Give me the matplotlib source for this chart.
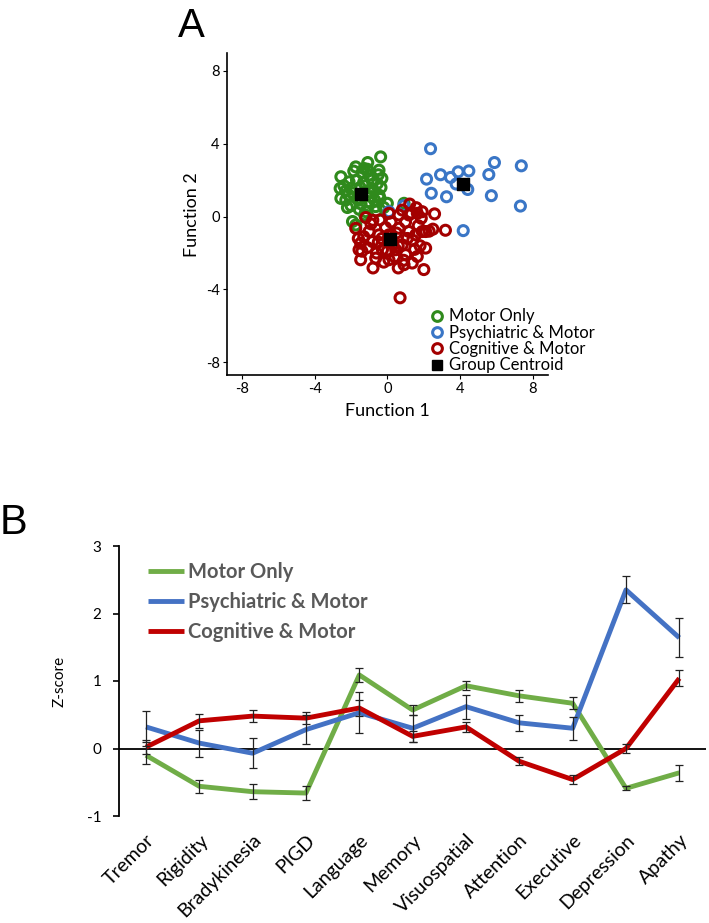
import matplotlib
matplotlib.use("Agg")
import matplotlib.pyplot as plt
from matplotlib.lines import Line2D

plt.rcParams['font.family'] = ['Lato', 'DejaVu Sans']
plt.rcParams['axes.unicode_minus'] = False

# ---- panel A: discriminant function scores ----
motor_x = [-0.37, -1.08, -1.74, -1.28, -0.46, -2.56, -2.11, -1.01, -0.55, -2.56,
           -2.29, -2.01, -1.01, -0.46, 0.0, -1.92, -1.74, -0.64, 0.92, -1.19,
           -1.5, -1.9, -2.3, -1.6, -1.2, -0.8, -0.3, -2.0, -1.4, -0.9,
           -0.6, -1.7, -2.4, -1.3, -0.7, -1.0, -1.55, -2.15, -0.35, -1.85,
           -1.1, -0.5, -2.6, -1.45, -0.2, -1.65, -2.2, -0.85, -1.25, -0.4]
motor_y = [3.28, 2.97, 2.73, 2.64, 2.55, 2.19, 1.91, 2.28, 1.82, 1.0,
           0.91, 1.55, 0.82, 1.18, 0.73, -0.27, -0.46, 0.55, 0.73, 0.27,
           1.6, 1.3, 1.4, 0.9, 1.7, 1.5, 2.1, 0.6, 2.4, 1.1,
           0.3, 2.0, 1.7, 1.9, 0.9, 1.35, 0.4, 1.2, 1.6, 2.5,
           2.6, 2.3, 1.55, 0.7, 0.5, 1.0, 0.5, 2.0, 0.1, 1.0]

psych_x = [2.38, 2.16, 2.93, 3.48, 3.90, 4.49, 3.79, 4.43, 2.42, 3.26,
           5.59, 5.90, 5.73, 7.38, 7.33, 4.18, 0.09, 0.9]
psych_y = [3.73, 2.06, 2.30, 2.15, 2.46, 2.51, 1.79, 1.49, 1.28, 1.09,
           2.31, 2.97, 1.15, 2.79, 0.58, -0.77, 0.27, 0.6]

cog_x = [2.6, 3.2, 2.51, 2.11, 1.87, 1.59, 1.23, 0.82, 0.09, -0.42,
         -1.19, -1.74, -1.47, -1.56, -1.47, -0.79, -0.64, 0.09, 0.6, 0.92,
         1.37, 2.01, 1.65, 2.11, 1.56, 1.92, 1.19, 0.82, 0.64, -1.01,
         -0.82, -0.27, 0.46, 1.01, -0.46, 0.09, 0.64, 1.19, 1.65, 1.92,
         0.7, -0.9, -0.1, 0.3, 1.4, -1.3, -0.6, 0.5, 1.0, -1.6,
         -0.2, 0.9, 1.5, -1.1, 0.2, -0.5, 1.3, 0.0, -0.8, 0.4,
         1.1, -1.4, 0.6, -0.3, 1.7, 2.3, 1.8]
cog_y = [0.15, -0.75, -0.69, -0.82, -0.09, 0.49, 0.69, 0.36, 0.18, -0.18,
         -0.05, -0.64, -1.46, -1.82, -2.37, -2.82, -2.28, -2.37, -2.82, -2.64,
         -2.55, -2.91, -2.19, -1.73, -1.0, -0.82, -0.82, -1.55, -0.64, -0.82,
         -1.37, -1.82, -1.82, -2.09, -1.0, -1.0, 0.09, 0.09, 0.18, 0.27,
         -4.46, -0.4, -0.6, -1.5, -1.3, -1.1, -2.0, -0.9, -0.3, -1.2,
         -2.5, -2.4, -1.8, -1.7, -0.3, -1.4, 0.2, -1.9, -0.2, -2.2,
         -1.2, -1.9, -1.6, -1.2, -0.5, -0.8, -1.6]

centroid_x = [-1.43, 4.18, 0.16]
centroid_y = [1.22, 1.77, -1.24]

# ---- panel B: z-scores by domain ----
domains = ['Tremor', 'Rigidity', 'Bradykinesia', 'PIGD', 'Language', 'Memory',
           'Visuospatial', 'Attention', 'Executive', 'Depression', 'Apathy']
motor_z = [-0.10, -0.56, -0.64, -0.66, 1.09, 0.57, 0.93, 0.78, 0.67, -0.59, -0.36]
motor_err = [0.13, 0.10, 0.11, 0.10, 0.11, 0.07, 0.07, 0.09, 0.09, 0.03, 0.12]
psych_z = [0.32, 0.08, -0.07, 0.28, 0.53, 0.30, 0.62, 0.38, 0.30, 2.35, 1.64]
psych_err = [0.23, 0.20, 0.22, 0.22, 0.30, 0.20, 0.18, 0.12, 0.17, 0.20, 0.29]
cog_z = [0.02, 0.41, 0.48, 0.45, 0.60, 0.18, 0.32, -0.19, -0.46, 0.00, 1.04]
cog_err = [0.10, 0.10, 0.09, 0.09, 0.12, 0.08, 0.07, 0.06, 0.07, 0.06, 0.12]

W, H = 709, 923
fig = plt.figure(figsize=(W / 100, H / 100), dpi=100)

# Panel A
axA = fig.add_axes([226.7 / W, 1 - 375 / H, (548 - 226.7) / W, (375 - 53.3) / H])
green_a, blue_a, red_a = '#2f8a1c', '#3a76c6', '#a30000'
sc = dict(s=52, facecolors='none', linewidths=2.2)
axA.scatter(motor_x, motor_y, edgecolors=green_a, **sc)
axA.scatter(psych_x, psych_y, edgecolors=blue_a, **sc)
axA.scatter(cog_x, cog_y, edgecolors=red_a, **sc)
axA.scatter(centroid_x, centroid_y, marker='s', s=75, color='black', zorder=5)
axA.set_xlim(-8.85, 8.85)
axA.set_ylim(-8.7, 8.97)
axA.set_xticks([-8, -4, 0, 4, 8])
axA.set_yticks([-8, -4, 0, 4, 8])
for s in ['top', 'right']:
    axA.spines[s].set_visible(False)
for s in ['left', 'bottom']:
    axA.spines[s].set_linewidth(1.2)
axA.tick_params(direction='out', length=3, width=0.8, labelsize=10.5, pad=2)
axA.set_xlabel('Function 1', fontsize=13, labelpad=5)
axA.set_ylabel('Function 2', fontsize=13, labelpad=4)

handlesA = [
    Line2D([], [], ls='none', marker='o', mfc='none', mec=green_a, mew=2.2, ms=7),
    Line2D([], [], ls='none', marker='o', mfc='none', mec=blue_a, mew=2.2, ms=7),
    Line2D([], [], ls='none', marker='o', mfc='none', mec=red_a, mew=2.2, ms=7),
    Line2D([], [], ls='none', marker='s', color='black', ms=7.5),
]
axA.legend(handlesA, ['Motor Only', 'Psychiatric & Motor', 'Cognitive & Motor', 'Group Centroid'],
           loc='lower left', bbox_to_anchor=(0.63, 0.0), frameon=False, fontsize=12,
           handlelength=0.8, handletextpad=0.3, labelspacing=0.02, borderpad=0.1,
           borderaxespad=0.0)
fig.text(178 / W, 1 - 37 / H, 'A', fontsize=29, family='Liberation Sans', va='baseline')

# Panel B
axB = fig.add_axes([119.3 / W, 1 - 816 / H, (706 - 119.3) / W, (816 - 546) / H])
x = list(range(len(domains)))
series = [
    (motor_z, motor_err, '#70ad47', 'Motor Only'),
    (psych_z, psych_err, '#4472c4', 'Psychiatric & Motor'),
    (cog_z, cog_err, '#c00000', 'Cognitive & Motor'),
]
for z, e, c, lab in series:
    axB.plot(x, z, color=c, lw=3.5, label=lab, solid_capstyle='butt', zorder=2)
for z, e, c, lab in series:
    axB.errorbar(x, z, yerr=e, fmt='none', ecolor='#222222', elinewidth=0.9,
                 capsize=2.8, capthick=0.9, zorder=3)
axB.axhline(0, color='black', lw=1.3, zorder=1)
axB.set_xlim(-0.5, 10.5)
axB.set_ylim(-1, 3)
axB.set_yticks([-1, 0, 1, 2, 3])
axB.set_xticks(x)
axB.set_xticklabels(domains, rotation=45, ha='right', va='top', rotation_mode='anchor',
                    fontsize=14)
axB.tick_params(axis='x', length=0, pad=11)
axB.tick_params(axis='y', direction='out', length=4, width=1.2, labelsize=11, pad=9)
for s in ['top', 'right', 'bottom']:
    axB.spines[s].set_visible(False)
axB.spines['left'].set_linewidth(1.3)
axB.set_ylabel('Z-score', fontsize=11)
axB.yaxis.set_label_coords(-0.09, 0.5)
legB = axB.legend(loc='upper left', bbox_to_anchor=(0.049, 0.94), frameon=False,
                  handlelength=1.8, handletextpad=0.2, labelspacing=0.5,
                  borderpad=0.0, borderaxespad=0.0, prop={'weight': 'bold', 'size': 14.5})
for t in legB.get_texts():
    t.set_color('#595959')
fig.text(0 / W, 1 - 534 / H, 'B', fontsize=30, family='Liberation Sans', va='baseline')

fig.savefig('out.png', dpi=100)
